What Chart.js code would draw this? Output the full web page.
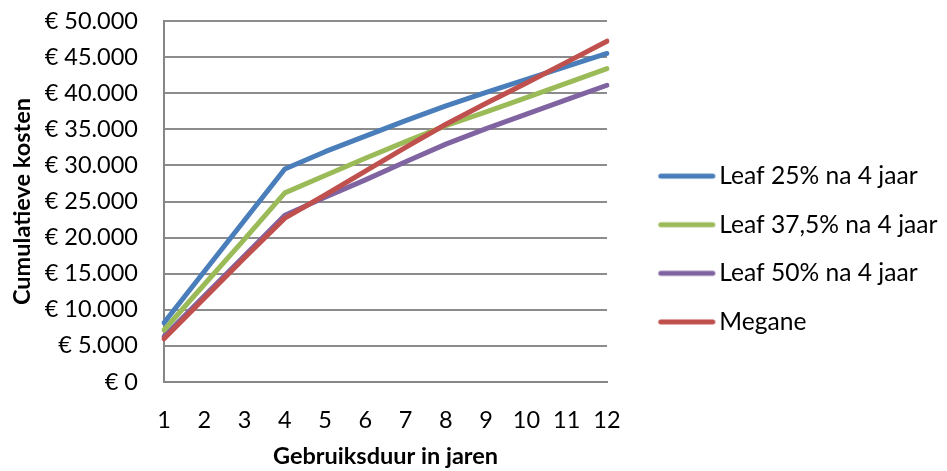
<!DOCTYPE html>
<html lang="nl">
<head>
<meta charset="utf-8">
<title>Cumulatieve kosten</title>
<script src="https://cdn.jsdelivr.net/npm/chart.js@4"></script>
<style>
  html, body { margin: 0; padding: 0; background: #ffffff; }
  #wrap { position: relative; width: 947px; height: 471px; }
</style>
</head>
<body>
<div id="wrap"><canvas id="chart"></canvas></div>
<script>
// Gebruiksduur (jaren)
const years = [1, 2, 3, 4, 5, 6, 7, 8, 9, 10, 11, 12];

// Cumulatieve kosten in euro per scenario
const leaf25  = [8200, 15300, 22400, 29500, 31900, 34050, 36200, 38250, 40100, 41900, 43700, 45500];
const leaf375 = [7200, 13500, 19800, 26200, 28600, 31000, 33300, 35500, 37400, 39400, 41400, 43400];
const leaf50  = [6300, 11900, 17500, 23100, 25600, 28000, 30500, 32950, 35100, 37100, 39100, 41100];
const megane  = [6000, 11600, 17200, 22700, 25900, 29200, 32500, 35700, 38600, 41400, 44300, 47200];

const seriesNames = ['Leaf 25% na 4 jaar', 'Leaf 37,5% na 4 jaar', 'Leaf 50% na 4 jaar', 'Megane'];
const seriesColors = ['#4a7ebb', '#9bbb59', '#8064a2', '#c0504d'];

const FONT = 'Lato, "Open Sans", sans-serif';
const FS = 23.5;
const LEGEND_FS = 24.6;
const SAMPLE_W = 45;   // legend box width reserved by Chart.js

function euro(v) {
  return '€ ' + String(v).replace(/\B(?=(\d{3})+(?!\d))/g, '.');
}

// Legend key: a short coloured stroke that runs right up to the label text
function legendStroke(color) {
  const c = document.createElement('canvas');
  c.width = 70;
  c.height = 10;
  const g = c.getContext('2d');
  g.strokeStyle = color;
  g.lineWidth = 5;
  g.lineCap = 'round';
  g.beginPath();
  g.moveTo(11.3, 5);
  g.lineTo(63.3, 5);
  g.stroke();
  return c;
}

function lineSet(i, data, drawOrder) {
  return {
    label: seriesNames[i],
    data: data,
    borderColor: seriesColors[i],
    backgroundColor: seriesColors[i],
    borderWidth: 5,
    borderCapStyle: 'round',
    borderJoinStyle: 'round',
    pointRadius: 0,
    pointHoverRadius: 0,
    pointStyle: legendStroke(seriesColors[i]),
    tension: 0,
    fill: false,
    order: drawOrder
  };
}

new Chart(document.getElementById('chart'), {
  type: 'line',
  data: {
    labels: years,
    datasets: [
      lineSet(0, leaf25, 1),
      lineSet(1, leaf375, 2),
      lineSet(2, leaf50, 3),
      lineSet(3, megane, 0)
    ]
  },
  options: {
    responsive: true,
    maintainAspectRatio: false,
    animation: false,
    layout: { autoPadding: false, padding: { top: 21, right: 0, bottom: 0, left: 8 } },
    plugins: {
      tooltip: { enabled: false },
      legend: {
        position: 'right',
        align: 'center',
        maxWidth: 309,
        title: { display: true, text: '', padding: 0, font: { size: 5 } },
        labels: {
          font: { family: FONT, size: LEGEND_FS },
          color: '#000000',
          usePointStyle: true,
          pointStyleWidth: SAMPLE_W,
          padding: 24,
          sort: (a, b) => a.datasetIndex - b.datasetIndex
        }
      }
    },
    scales: {
      x: {
        type: 'category',
        offset: false,
        grid: { display: false, drawTicks: false },
        border: { display: true, color: '#868686', width: 2 },
        ticks: {
          font: { family: FONT, size: FS },
          color: '#000000',
          padding: 24,
          maxRotation: 0,
          autoSkip: false
        },
        title: {
          display: true,
          text: 'Gebruiksduur in jaren',
          font: { family: FONT, size: FS, weight: 'bold' },
          color: '#000000',
          padding: { top: 0, bottom: 0 }
        },
        afterFit(s) {
          s.height = 89;
          s.paddingLeft = 0;
          s.paddingRight = 0;
        }
      },
      y: {
        min: 0,
        max: 50000,
        grid: { color: '#8c8c8c', lineWidth: 2, drawTicks: false },
        border: { display: true, color: '#868686', width: 2 },
        ticks: {
          stepSize: 5000,
          font: { family: FONT, size: FS },
          color: '#000000',
          padding: 26,
          callback: (v) => euro(v)
        },
        title: {
          display: true,
          text: 'Cumulatieve kosten',
          font: { family: FONT, size: FS, weight: 'bold' },
          color: '#000000',
          padding: { top: 0, bottom: 4 }
        },
        afterFit(s) {
          s.width = 156;
          s.paddingTop = 0;
          s.paddingBottom = 0;
        }
      },
      // empty spacer between plot area and legend
      gap: {
        type: 'linear',
        position: 'right',
        display: true,
        grid: { display: false, drawTicks: false },
        border: { display: false },
        ticks: { display: false },
        afterFit(s) {
          s.width = 31;
          s.paddingTop = 0;
          s.paddingBottom = 0;
        }
      }
    }
  }
});
</script>
</body>
</html>
